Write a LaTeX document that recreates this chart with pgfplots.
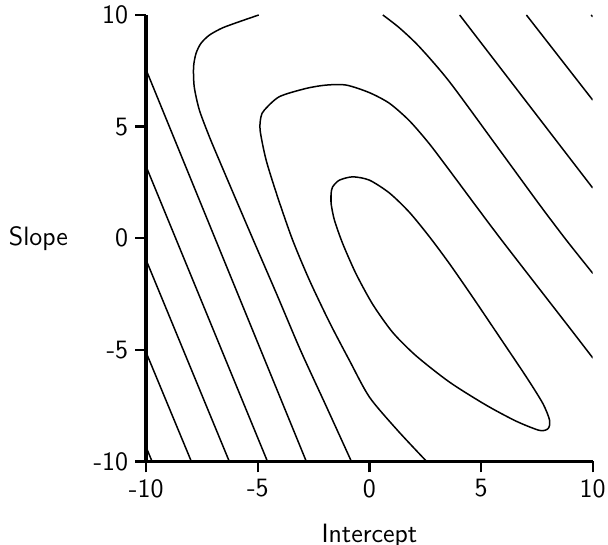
\documentclass[border=0pt]{standalone}
\usepackage{fontspec}
\usepackage{pgfplots}
\pgfplotsset{compat=1.18}
\newcommand{\lblfont}{\sffamily\fontsize{13.25}{16}\selectfont}
\pgfplotsset{contour/.style={black, line width=0.75pt, smooth, tension=0.45, mark=none}}

\begin{document}
\begin{tikzpicture}
\begin{axis}[name=ax, scale only axis, width=223.3pt, height=223.3pt,
  xmin=-10, xmax=10, ymin=-10, ymax=10,
  axis x line=bottom, axis y line=left,
  x axis line style={-, line width=1.6pt}, y axis line style={-, line width=2pt},
  tick align=outside, major tick length=5.5pt, tick style={black, line width=1.2pt},
  xtick={-10,-5,0,5,10}, xticklabels={-10,-5,0,5,10},
  ytick={-10,-5,0,5,10}, yticklabels={-10,-5,0,5,10},
  tick label style={font=\lblfont},
  xlabel={Intercept}, ylabel={Slope},
  every axis x label/.style={at={(axis description cs:0.5,0)}, anchor=north, inner sep=0pt, yshift=-31pt, font=\lblfont},
  every axis y label/.style={at={(axis description cs:0,0.5)}, anchor=east, inner sep=0pt, xshift=-39pt, font=\lblfont},
]
% straight contours, lower left
\addplot[contour] coordinates {(-10,-9.37) (-9.74,-10)};
\addplot[contour] coordinates {(-10,-5.13) (-7.98,-10)};
\addplot[contour] coordinates {(-10,-0.99) (-6.28,-10)};
\addplot[contour] coordinates {(-10,3.20) (-4.57,-10)};
\addplot[contour] coordinates {(-10,7.53) (-2.83,-10)};
% bent contour from the top edge to the bottom edge
\addplot[contour] coordinates {(-4.96,10) (-5.83,9.70) (-6.59,9.42) (-7.17,9.10) (-7.55,8.73) (-7.77,8.28) (-7.88,7.68) (-7.85,6.78) (-7.62,5.74) (-7.17,4.54) (-6.70,3.42) (-5.95,1.66) (-5.20,-0.09) (-4.15,-2.52) (-3.09,-5.02) (-1.95,-7.50) (-0.81,-10)};
% open contour round the minimum
\addplot[contour] coordinates {(2.56,-10) (1.26,-8.61) (0.0,-7.12) (-0.90,-5.47) (-1.79,-3.77) (-2.69,-1.88) (-3.44,-0.09) (-4.10,1.80) (-4.63,3.50) (-4.90,4.84) (-4.86,5.44) (-4.71,5.74) (-4.04,6.34) (-2.84,6.71) (-1.94,6.86) (-1.04,6.86) (0.0,6.52) (0.90,6.04) (1.79,5.26) (2.69,4.22) (3.74,2.83) (4.78,1.43) (5.87,-0.02) (7.48,-2.10) (8.97,-4.02) (10.01,-5.37)};
% closed contour
\addplot[contour] coordinates {(-1.72,1.56) (-1.72,2.00) (-1.65,2.30) (-1.35,2.60) (-0.75,2.75) (0,2.60) (0.90,2.02) (1.79,1.16) (2.69,0.06) (3.59,-1.15) (4.63,-2.65) (5.83,-4.43) (7.03,-6.22) (7.77,-7.41) (8.07,-8.16) (8.00,-8.53) (7.62,-8.61) (6.58,-8.20) (5.23,-7.48) (3.59,-6.45) (2.09,-5.27) (1.04,-4.22) (0.15,-2.97) (-0.60,-1.60) (-1.20,-0.24) (-1.57,0.81) (-1.72,1.56) (-1.72,2.00)};
% straight contours, upper right
\addplot[contour] coordinates {(0.60,10) (1.345,9.42) (2.24,8.57) (3.59,7.00) (5.83,3.95) (7.62,1.50) (8.83,-0.10) (10.01,-1.58)};
\addplot[contour] coordinates {(4.04,10) (10,2.25)};
\addplot[contour] coordinates {(7.03,10) (10,6.19)};
\addplot[contour] coordinates {(9.93,10) (10,9.92)};
\end{axis}
\pgfresetboundingbox
\path[use as bounding box] ([xshift=-73.15pt,yshift=-41.75pt]ax.south west) rectangle ([xshift=7.65pt,yshift=7.5pt]ax.north east);
\end{tikzpicture}
\end{document}
